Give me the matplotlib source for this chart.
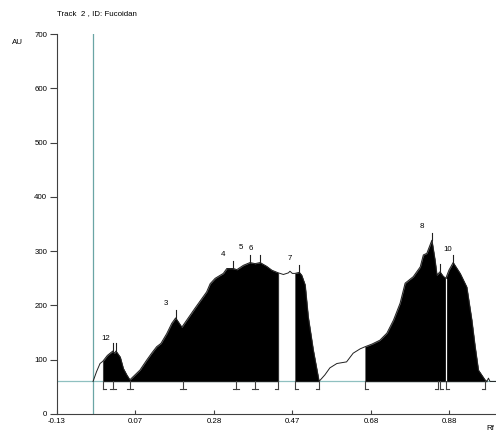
import matplotlib.pyplot as plt
import numpy as np

# densitometer scan (Rf vs AU)
rf = np.array([-0.037, -0.028, -0.019, -0.012, 0.000, 0.014, 0.018, 0.022, 0.033, 0.041,
               0.050, 0.058, 0.071, 0.084, 0.101, 0.114, 0.127, 0.138, 0.153, 0.166,
               0.176, 0.192, 0.226, 0.256, 0.265, 0.278, 0.299, 0.308, 0.325, 0.334,
               0.351, 0.368, 0.381, 0.394, 0.411, 0.424, 0.441, 0.454, 0.467, 0.471,
               0.477, 0.484, 0.495, 0.501, 0.510, 0.518, 0.531, 0.546, 0.561, 0.574,
               0.592, 0.617, 0.634, 0.652, 0.665, 0.683, 0.703, 0.721, 0.738, 0.755,
               0.768, 0.789, 0.807, 0.815, 0.824, 0.837, 0.845, 0.850, 0.858, 0.866,
               0.873, 0.881, 0.892, 0.910, 0.927, 0.940, 0.948, 0.957, 0.974, 0.979,
               0.983, 0.987, 1.003])
au = np.array([60, 78, 93, 97, 108, 116, 112, 116, 105, 84,
               72, 63, 72, 81, 99, 112, 124, 130, 148, 167,
               177, 160, 195, 225, 240, 250, 259, 268, 268, 266,
               274, 279, 277, 279, 272, 265, 260, 257, 260, 263,
               259, 259, 261, 256, 238, 179, 118, 60, 72, 85,
               93, 96, 112, 120, 124, 129, 136, 149, 173, 204,
               241, 253, 271, 293, 296, 320, 284, 256, 262, 254,
               250, 265, 279, 259, 234, 173, 127, 81, 63, 60,
               66, 60, 60])

baseline = 60
start_rf = -0.037

# integrated (black) regions: start, end
region_start = [-0.012, 0.484, 0.665]
region_end = [0.441, 0.546, 0.979]

# peak tops
peak_rf = [0.014, 0.022, 0.176, 0.325, 0.368, 0.394, 0.495, 0.837, 0.858, 0.892]
peak_au = [116, 116, 177, 268, 279, 279, 261, 320, 262, 279]

# peak numbers as printed
label_text = ['12', '3', '4', '5', '6', '7', '8', '10']
label_rf = [-0.004, 0.151, 0.299, 0.344, 0.370, 0.471, 0.811, 0.878]
label_au = [140, 203, 294, 306, 305, 287, 346, 303]

# integration limits under the baseline: l = start, r = end, b = both
limit_rf = [-0.012, 0.015, 0.058, 0.196, 0.332, 0.381, 0.441, 0.484, 0.546,
            0.665, 0.852, 0.858, 0.873, 0.974]
limit_kind = ['l', 'b', 'b', 'b', 'b', 'b', 'r', 'l', 'r', 'l', 'r', 'l', 'l', 'r']

# x ticks sit at equal spacing, labels as printed by the scanner
xtick_pos = [-0.13, 0.0725, 0.275, 0.4775, 0.68, 0.8825]
xtick_lab = ['-0.13', '0.07', '0.28', '0.47', '0.68', '0.88']

plt.rcParams['font.family'] = ['Liberation Sans', 'DejaVu Sans']

fig = plt.figure(figsize=(4.96, 4.34), dpi=100)
ax = fig.add_axes([57 / 496, 20 / 434, 439 / 496, 380 / 434])

# baseline and start line
ax.plot([-0.13, 1.003], [baseline, baseline], color='#8fc0c0', lw=0.9, zorder=1)
ax.plot([start_rf, start_rf], [0, 700], color='#6aa5a5', lw=0.9, zorder=1)

# trace
ax.plot(rf, au, color='#202020', lw=0.7, zorder=3)
for a, b in zip(region_start, region_end):
  m = (rf >= a) & (rf <= b)
  ax.fill_between(rf[m], baseline, au[m], color='black', lw=0.4, edgecolor='#404040', zorder=2)

# separator between peak 9 and 10
sep = 0.873
ax.plot([sep, sep], [baseline, np.interp(sep, rf, au) - 1], color='white', lw=0.9, zorder=4)

# peak markers
for x, y in zip(peak_rf, peak_au):
  ax.plot([x, x], [y, y + 14], color='#202020', lw=0.8, zorder=4)

for t, x, y in zip(label_text, label_rf, label_au):
  ax.text(x, y, t, fontsize=5.7, ha='center', va='center')

# limit marks below baseline
bar = 0.0075
for x, k in zip(limit_rf, limit_kind):
  ax.plot([x, x], [baseline, baseline - 14], color='#404040', lw=0.8, zorder=4)
  x0 = x - bar if k in 'rb' else x
  x1 = x + bar if k in 'lb' else x
  ax.plot([x0, x1], [baseline - 14, baseline - 14], color='#404040', lw=0.8, zorder=4)

ax.set_xlim(-0.13, 1.0025)
ax.set_ylim(0, 700)
ax.set_xticks(xtick_pos)
ax.set_xticklabels(xtick_lab)
ax.set_yticks(range(0, 701, 100))
ax.tick_params(axis='y', direction='out', length=5, width=0.8, pad=2, labelsize=5.7, color='#404040')
ax.tick_params(axis='x', direction='in', length=3, width=0.8, pad=3, labelsize=5.7, color='#404040')
for s in ['top', 'right']:
  ax.spines[s].set_visible(False)
for s in ['left', 'bottom']:
  ax.spines[s].set_color('#404040')
  ax.spines[s].set_linewidth(0.8)

fig.text(57 / 496, 1 - 14 / 434, 'Track  2 , ID: Fucoidan', fontsize=5.7, ha='left', va='center')
fig.text(12 / 496, 1 - 43 / 434, 'AU', fontsize=5.7, ha='left', va='center')
fig.text(494 / 496, 1 - 428 / 434, 'Rf', fontsize=5.7, ha='right', va='center')

fig.savefig('out.png', dpi=100)
